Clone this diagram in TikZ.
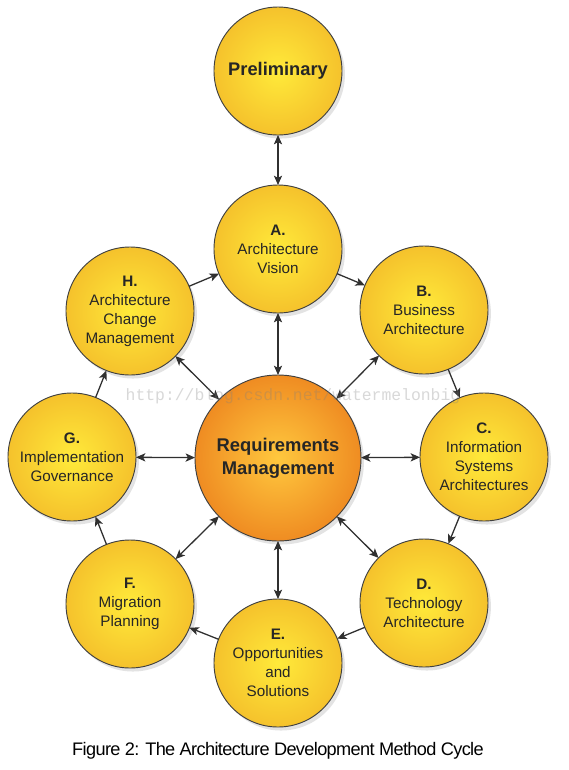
\documentclass[tikz,border=0pt]{standalone}
\usepackage{fontspec}
\setmainfont{Liberation Sans}
\newfontfamily\markfont{Liberation Mono}
\newfontfamily\captionfont[LetterSpace=-3.5]{Liberation Sans}
\usetikzlibrary{arrows.meta, positioning, shadows}

\definecolor{phaseIn}{RGB}{255,234,58}
\definecolor{phaseOut}{RGB}{245,194,44}
\definecolor{reqIn}{RGB}{255,200,62}
\definecolor{reqOut}{RGB}{239,140,34}
\definecolor{linkgray}{RGB}{48,48,48}

\begin{document}
\begin{tikzpicture}[x=0.03cm, y=-0.03cm,
  phase/.style={circle, draw=black!75, line width=0.8pt, minimum size=3.84cm,
    inner sep=0pt, outer sep=0pt, shading=radial, inner color=phaseIn,
    outer color=phaseOut, align=center, text=black!85,
    font=\fontsize{13}{16.2}\selectfont,
    drop shadow={opacity=0.22, shadow xshift=2.5pt, shadow yshift=-3pt}},
  reqphase/.style={phase, minimum size=4.98cm, inner color=reqIn, outer color=reqOut,
    font=\bfseries\fontsize{15.7}{19.6}\selectfont},
  link/.style={-{Stealth[length=8pt, width=7pt, inset=2pt]}, linkgray, line width=1.1pt},
  bilink/.style={{Stealth[length=8pt, width=7pt, inset=2pt]}-{Stealth[length=8pt, width=7pt, inset=2pt]}, linkgray, line width=1.1pt}]
  \useasboundingbox (0,0) rectangle (569,770);
  \fill[white] (0,0) rectangle (569,770);
  % Preliminary and the central phase
  \node[phase, font=\bfseries\fontsize{15.6}{18}\selectfont] (prelim) at (278,71) {Preliminary};
  \node[reqphase] (reqm) at (278,458) {Requirements\\Management};
  % The eight phases of the cycle
  \node[phase] (phaseA) at (278,249) {\textbf{A.}\\Architecture\\Vision};
  \node[phase] (phaseB) at (424,310) {\textbf{B.}\\Business\\Architecture};
  \node[phase] (phaseC) at (484,457) {\textbf{C.}\\Information\\Systems\\Architectures};
  \node[phase] (phaseD) at (424,603) {\textbf{D.}\\Technology\\Architecture};
  \node[phase] (phaseE) at (278,663) {\textbf{E.}\\Opportunities\\and\\Solutions};
  \node[phase] (phaseF) at (130,604) {\textbf{F.}\\Migration\\Planning};
  \node[phase] (phaseG) at (72,457) {\textbf{G.}\\Implementation\\Governance};
  \node[phase] (phaseH) at (130,311) {\textbf{H.}\\Architecture\\Change\\Management};
  % Preliminary link
  \draw[bilink] (prelim) -- (phaseA);
  % Cycle
  \draw[link] (phaseA) -- (phaseB);
  \draw[link] (phaseB) -- (phaseC);
  \draw[link] (phaseC) -- (phaseD);
  \draw[link] (phaseD) -- (phaseE);
  \draw[link] (phaseE) -- (phaseF);
  \draw[link] (phaseF) -- (phaseG);
  \draw[link] (phaseG) -- (phaseH);
  \draw[link] (phaseH) -- (phaseA);
  % Links to requirements management
  \draw[bilink] (reqm) -- (phaseA);
  \draw[bilink] (reqm) -- (phaseB);
  \draw[bilink] (reqm) -- (phaseC);
  \draw[bilink] (reqm) -- (phaseD);
  \draw[bilink] (reqm) -- (phaseE);
  \draw[bilink] (reqm) -- (phaseF);
  \draw[bilink] (reqm) -- (phaseG);
  \draw[bilink] (reqm) -- (phaseH);
  % Watermark
  \node[text=gray, opacity=0.3, font=\markfont\fontsize{14}{16}\selectfont] (mark) at (293,396) {http://blog.csdn.net/watermelonbig};
  % Caption
  \node[font=\captionfont\fontsize{15.5}{18}\selectfont] (caption) at (278,751) {Figure 2: The Architecture Development Method Cycle};
\end{tikzpicture}
\end{document}
